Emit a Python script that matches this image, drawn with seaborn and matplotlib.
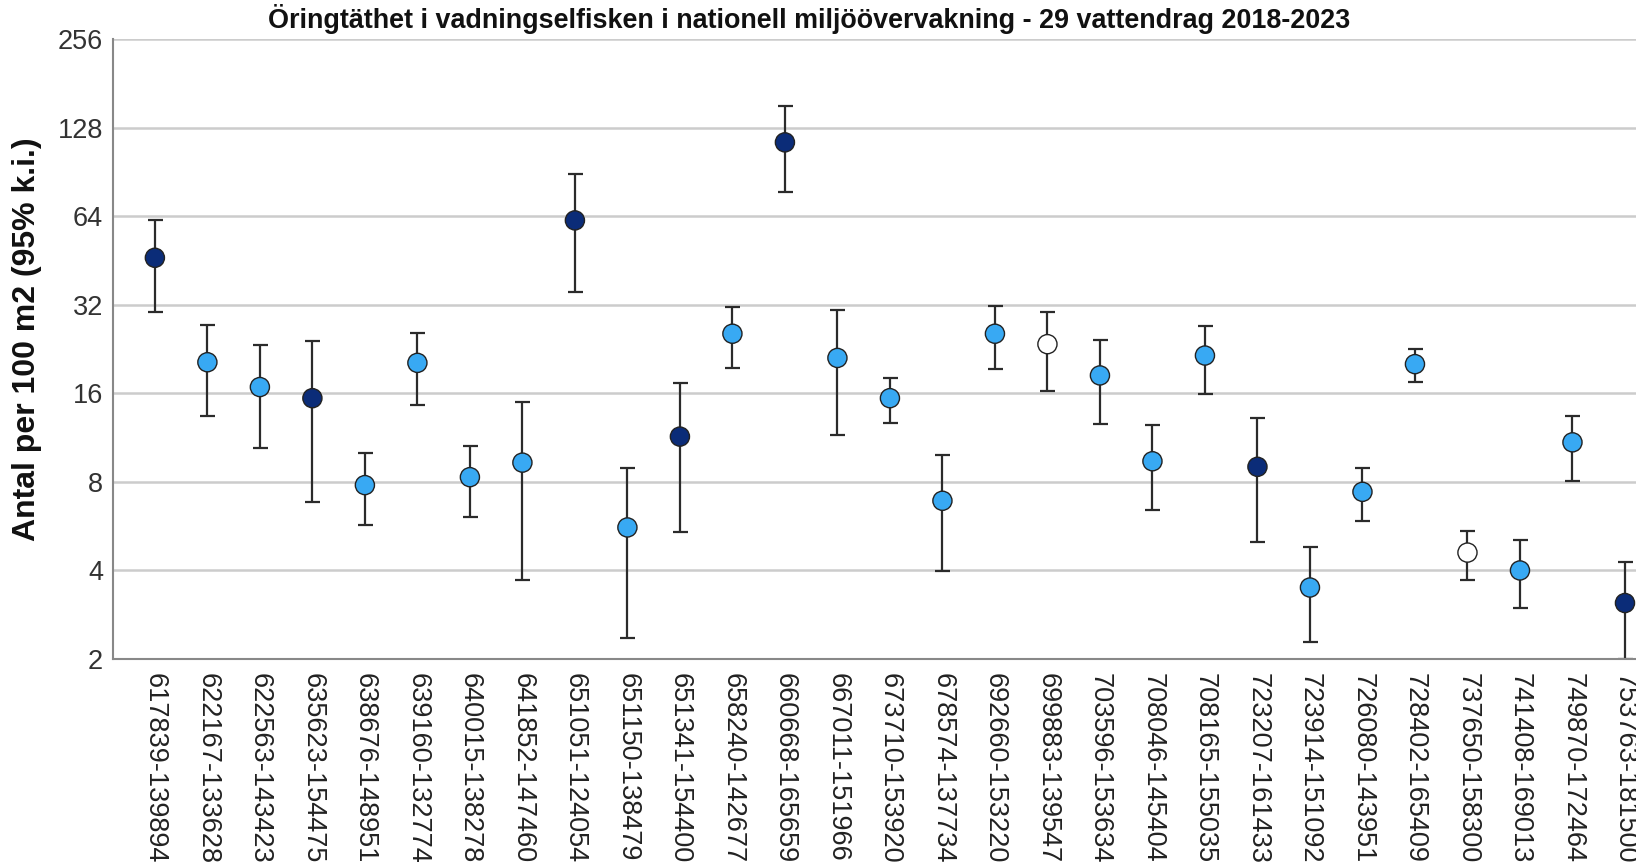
import numpy as np
import pandas as pd
import seaborn as sns
import matplotlib

matplotlib.use('Agg')
import matplotlib.pyplot as plt

# vattendrag (koordinater)
sites = ["617839-139894", "622167-133628", "622563-143423", "635623-154475", "638676-148951",
         "639160-132774", "640015-138278", "641852-147460", "651051-124054", "651150-138479",
         "651341-154400", "658240-142677", "660668-165659", "667011-151966", "673710-153920",
         "678574-137734", "692660-153220", "699883-139547", "703596-153634", "708046-145404",
         "708165-155035", "723207-161433", "723914-151092", "726080-143951", "728402-165409",
         "737650-158300", "741408-169013", "749870-172464", "753763-181500"]
# medelvärde, övre och nedre konfidensgräns (antal per 100 m2)
mean = [46.2, 20.4, 16.8, 15.4, 7.8, 20.3, 8.3, 9.3, 61.9, 5.6,
        11.4, 25.5, 114.0, 21.1, 15.4, 6.9, 25.5, 23.5, 18.4, 9.4,
        21.5, 9.0, 3.5, 7.4, 20.1, 4.6, 4.0, 10.9, 3.1]
upper = [61.9, 27.4, 23.3, 24.0, 10.0, 25.7, 10.6, 14.9, 88.7, 8.9,
         17.4, 31.5, 152.0, 30.7, 18.1, 9.9, 31.7, 30.2, 24.3, 12.5,
         27.0, 13.2, 4.8, 8.9, 22.7, 5.45, 5.07, 13.4, 4.27]
lower = [30.2, 13.4, 10.4, 6.85, 5.7, 14.6, 6.1, 3.7, 35.3, 2.35,
         5.4, 19.5, 77.2, 11.5, 12.7, 3.97, 19.3, 16.3, 12.6, 6.4,
         15.9, 5.0, 2.28, 5.87, 17.5, 3.72, 2.98, 8.07, 2.0]
# grupp för färg
grupp = ["mörk", "ljus", "ljus", "mörk", "ljus", "ljus", "ljus", "ljus", "mörk", "ljus",
         "mörk", "ljus", "mörk", "ljus", "ljus", "ljus", "ljus", "vit", "ljus", "ljus",
         "ljus", "mörk", "ljus", "ljus", "ljus", "vit", "ljus", "ljus", "mörk"]
farger = {"mörk": "#0b2c78", "ljus": "#38a9f3", "vit": "#ffffff"}
y_ticks = [2, 4, 8, 16, 32, 64, 128, 256]

df = pd.DataFrame({"site": sites, "mean": mean, "upper": upper, "lower": lower, "grupp": grupp})
df["x"] = np.arange(len(df))

sns.set_style("white")
plt.rcParams['font.family'] = ['Liberation Sans', 'DejaVu Sans']

fig = plt.figure(figsize=(16.36, 8.66), dpi=100)
ax = fig.add_axes([0.069, 0.239, 0.931, 0.716])

# konfidensintervall
ax.errorbar(df["x"], df["mean"],
            yerr=[df["mean"] - df["lower"], df["upper"] - df["mean"]],
            fmt="none", ecolor="#2b2b2b", elinewidth=1.6, capsize=5.4, capthick=1.6, zorder=2)
sns.scatterplot(data=df, x="x", y="mean", hue="grupp", palette=farger, s=190,
                edgecolor="#222222", linewidth=1.0, legend=False, ax=ax, zorder=3)

ax.set_yscale("log", base=2)
ax.set_ylim(2, 256)
ax.set_yticks(y_ticks)
ax.set_yticklabels([str(t) for t in y_ticks])
ax.minorticks_off()
ax.set_xlim(-0.8, 28.21)
ax.set_xticks(df["x"])
ax.set_xticklabels(sites, rotation=-90)
ax.tick_params(axis="x", labelsize=19.5, pad=10, length=0, colors="#222222")
ax.tick_params(axis="y", labelsize=19.5, pad=7, length=0, colors="#333333")
ax.yaxis.grid(True, color="#cccccc", linewidth=1.8)
ax.set_axisbelow(True)
for s in ["top", "right"]:
    ax.spines[s].set_visible(False)
for s in ["left", "bottom"]:
    ax.spines[s].set_color("#888888")
    ax.spines[s].set_linewidth(1.5)
ax.set_xlabel("")
ax.set_ylabel("")

fig.text(0.4945, 0.978, "Öringtäthet i vadningselfisken i nationell miljöövervakning - 29 vattendrag 2018-2023",
         ha="center", va="center", fontsize=19.4, fontweight="bold", color="#111111")
fig.text(0.0165, 1 - 339 / 866, "Antal per 100 m2 (95% k.i.)", rotation=90,
         ha="center", va="center", fontsize=23, fontweight="bold", color="#111111")

plt.savefig("out.png", dpi=100)
